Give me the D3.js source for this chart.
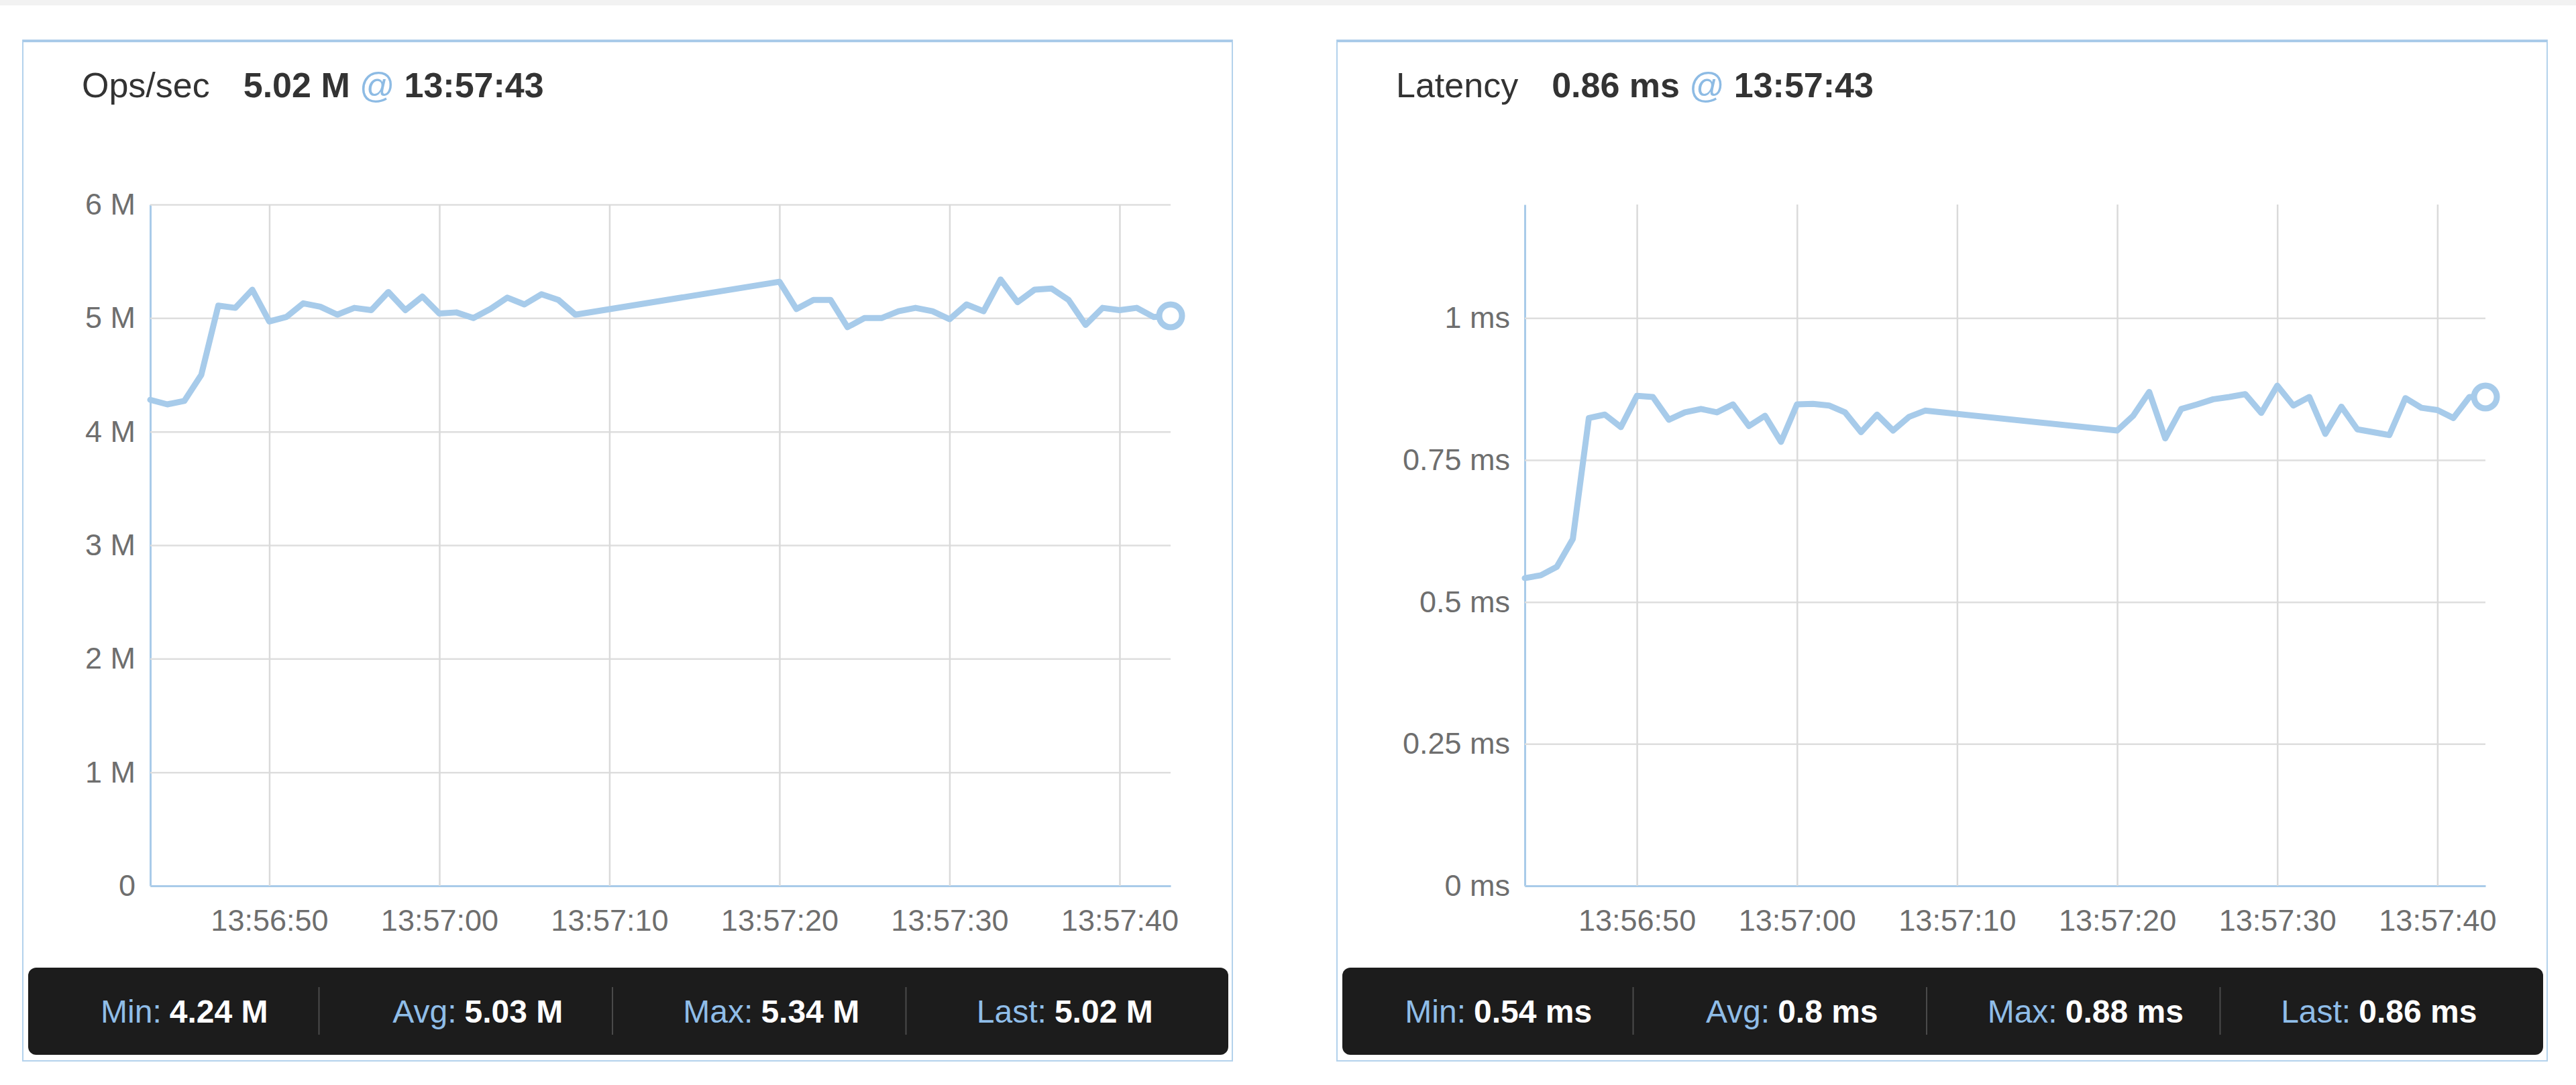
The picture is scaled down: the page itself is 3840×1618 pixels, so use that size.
<!DOCTYPE html>
<html>
<head>
<meta charset="utf-8">
<script src="https://cdn.jsdelivr.net/npm/d3@7"></script>
<style>
  html, body { margin: 0; padding: 0; background: #fff; }
  svg { display: block; font-family: "Liberation Sans", Arial, Helvetica, sans-serif; }
</style>
</head>
<body>
<svg id="chart"></svg>
<script>
// sample times (gap between 13:57:08 and 13:57:20)
const timeLabels = [
  "13:56:43", "13:56:44", "13:56:45", "13:56:46", "13:56:47", "13:56:48", "13:56:49",
  "13:56:50", "13:56:51", "13:56:52", "13:56:53", "13:56:54", "13:56:55", "13:56:56",
  "13:56:57", "13:56:58", "13:56:59", "13:57:00", "13:57:01", "13:57:02", "13:57:03",
  "13:57:04", "13:57:05", "13:57:06", "13:57:07", "13:57:08",
  "13:57:20", "13:57:21", "13:57:22", "13:57:23", "13:57:24", "13:57:25", "13:57:26",
  "13:57:27", "13:57:28", "13:57:29", "13:57:30", "13:57:31", "13:57:32", "13:57:33",
  "13:57:34", "13:57:35", "13:57:36", "13:57:37", "13:57:38", "13:57:39", "13:57:40",
  "13:57:41", "13:57:42", "13:57:43"
];

// ops/sec in millions
const opsValues = [
  4.28, 4.24, 4.27, 4.50, 5.11, 5.09, 5.25, 4.97, 5.01, 5.13, 5.10, 5.03, 5.09, 5.07,
  5.23, 5.07, 5.19, 5.04, 5.05, 5.00, 5.08, 5.18, 5.12, 5.21, 5.16, 5.03,
  5.32, 5.08, 5.16, 5.16, 4.92, 5.00, 5.00, 5.06, 5.09, 5.06, 4.99, 5.12, 5.06, 5.34,
  5.14, 5.25, 5.26, 5.16, 4.94, 5.09, 5.07, 5.09, 5.01, 5.02
];

// latency in ms
const latencyValues = [
  0.542, 0.547, 0.562, 0.611, 0.824, 0.830, 0.808, 0.863, 0.861, 0.821, 0.834, 0.840, 0.834, 0.848,
  0.810, 0.828, 0.782, 0.848, 0.849, 0.846, 0.834, 0.799, 0.830, 0.802, 0.826, 0.837,
  0.802, 0.828, 0.870, 0.788, 0.840, 0.848, 0.857, 0.861, 0.866, 0.833, 0.881, 0.846, 0.861, 0.796,
  0.844, 0.804, 0.799, 0.794, 0.859, 0.842, 0.838, 0.824, 0.861, 0.861
];

const timeDomain = ["13:56:43", "13:57:43"];

const opsTicks = [0, 1, 2, 3, 4, 5, 6];
const opsTickLabels = ["0", "1 M", "2 M", "3 M", "4 M", "5 M", "6 M"];
const latencyTicks = [0, 0.25, 0.5, 0.75, 1];
const latencyTickLabels = ["0 ms", "0.25 ms", "0.5 ms", "0.75 ms", "1 ms"];

const statNames = ["Min", "Avg", "Max", "Last"];
const opsStats = ["4.24 M", "5.03 M", "5.34 M", "5.02 M"];
const latencyStats = ["0.54 ms", "0.8 ms", "0.88 ms", "0.86 ms"];

const W = 3840, H = 1618;
const lineColor = "#a7cbea";
const parseTime = d3.timeParse("%H:%M:%S");

const svg = d3.select("#chart").attr("width", W).attr("height", H);
svg.append("rect").attr("width", W).attr("height", H).attr("fill", "#fff");
svg.append("rect").attr("width", W).attr("height", 8).attr("fill", "#f2f2f2");

const drawPanel = (cfg) => {
    const { left, top, width, height, plotLeft } = cfg;
    const g = svg.append("g");

    // panel frame
    g.append("rect")
        .attr("x", left).attr("y", top)
        .attr("width", width).attr("height", height)
        .attr("fill", "#fff")
        .attr("stroke", "#b3d2ec")
        .attr("stroke-width", 2);
    g.append("line")
        .attr("x1", left).attr("x2", left + width)
        .attr("y1", top + 1).attr("y2", top + 1)
        .attr("stroke", "#a9cbe9").attr("stroke-width", 4);

    // header
    const title = g.append("text")
        .attr("x", left + 88).attr("y", top + 85)
        .attr("font-size", 52).attr("fill", "#333");
    title.append("tspan").text(cfg.title);
    title.append("tspan").attr("dx", 50).attr("font-weight", "bold").text(cfg.current);
    title.append("tspan").attr("dx", 14).attr("fill", "#8dbbe4").text("@");
    title.append("tspan").attr("dx", 14).attr("font-weight", "bold").text(timeLabels[timeLabels.length - 1]);

    const plotRight = left + width - 92;
    const plotTop = 305, plotBottom = 1321;

    const x = d3.scaleTime()
        .domain(timeDomain.map(parseTime))
        .range([plotLeft, plotRight]);
    const y = d3.scaleLinear()
        .domain(cfg.yDomain)
        .range([plotBottom, plotTop]);

    // y axis + horizontal grid
    const yAxis = g.append("g")
        .attr("transform", `translate(${plotLeft},0)`)
        .call(d3.axisLeft(y)
            .tickValues(cfg.ticks)
            .tickFormat((d, i) => cfg.tickLabels[i])
            .tickSizeInner(-(plotRight - plotLeft))
            .tickSizeOuter(0)
            .tickPadding(22));
    yAxis.selectAll(".tick line").attr("stroke", "#dedede").attr("stroke-width", 2.5);
    yAxis.selectAll(".tick text")
        .attr("font-size", 45).attr("fill", "#6e6e6e")
        .attr("font-family", "Liberation Sans, Arial, sans-serif");
    yAxis.select(".domain").attr("stroke", "#a9cbe9").attr("stroke-width", 3);

    // x axis + vertical grid
    const xAxis = g.append("g")
        .attr("transform", `translate(0,${plotBottom})`)
        .call(d3.axisBottom(x)
            .ticks(d3.timeSecond.every(10))
            .tickFormat(d3.timeFormat("%H:%M:%S"))
            .tickSizeInner(-(plotBottom - plotTop))
            .tickSizeOuter(0)
            .tickPadding(35));
    xAxis.selectAll(".tick line").attr("stroke", "#dadada").attr("stroke-width", 2.5);
    xAxis.selectAll(".tick text")
        .attr("font-size", 45).attr("fill", "#6e6e6e")
        .attr("font-family", "Liberation Sans, Arial, sans-serif");
    xAxis.select(".domain").attr("stroke", "#a9cbe9").attr("stroke-width", 3);

    // series
    const pts = timeLabels.map((t, i) => [parseTime(t), cfg.values[i]]);
    const line = d3.line()
        .x(d => x(d[0]))
        .y(d => y(d[1]));
    g.append("path")
        .datum(pts)
        .attr("d", line)
        .attr("fill", "none")
        .attr("stroke", lineColor)
        .attr("stroke-width", 9)
        .attr("stroke-linejoin", "round")
        .attr("stroke-linecap", "round");
    const last = pts[pts.length - 1];
    g.append("circle")
        .attr("cx", x(last[0])).attr("cy", y(last[1]))
        .attr("r", 17)
        .attr("fill", "#fff")
        .attr("stroke", lineColor)
        .attr("stroke-width", 9);

    // stats bar
    const barX = left + 8, barY = 1443, barW = width - 14, barH = 130;
    g.append("rect")
        .attr("x", barX).attr("y", barY)
        .attr("width", barW).attr("height", barH)
        .attr("rx", 12)
        .attr("fill", "#1c1c1c");

    const cell = d3.scaleBand()
        .domain(statNames)
        .range([barX - 4, barX - 4 + 1750]);

    g.selectAll(".divider")
        .data(statNames.slice(0, 3))
        .enter().append("line")
        .attr("x1", d => cell(d) + cell.bandwidth())
        .attr("x2", d => cell(d) + cell.bandwidth())
        .attr("y1", barY + 29).attr("y2", barY + 100)
        .attr("stroke", "#4a4a4a").attr("stroke-width", 2);

    const stat = g.selectAll(".stat")
        .data(statNames)
        .enter().append("text")
        .attr("x", d => cell(d) + cell.bandwidth() / 2 + 18)
        .attr("y", barY + 82)
        .attr("text-anchor", "middle")
        .attr("font-size", 48);
    stat.append("tspan").attr("fill", "#8fbde8").text(d => d + ":");
    stat.append("tspan").attr("dx", 12).attr("fill", "#fff").attr("font-weight", "bold")
        .text((d, i) => cfg.stats[i]);
};

drawPanel({
    left: 34, top: 60, width: 1803, height: 1522, plotLeft: 224,
    title: "Ops/sec", current: "5.02 M",
    values: opsValues, yDomain: [0, 6],
    ticks: opsTicks, tickLabels: opsTickLabels,
    stats: opsStats
});

drawPanel({
    left: 1993, top: 60, width: 1804, height: 1522, plotLeft: 2273,
    title: "Latency", current: "0.86 ms",
    values: latencyValues, yDomain: [0, 1.2],
    ticks: latencyTicks, tickLabels: latencyTickLabels,
    stats: latencyStats
});
</script>
</body>
</html>
